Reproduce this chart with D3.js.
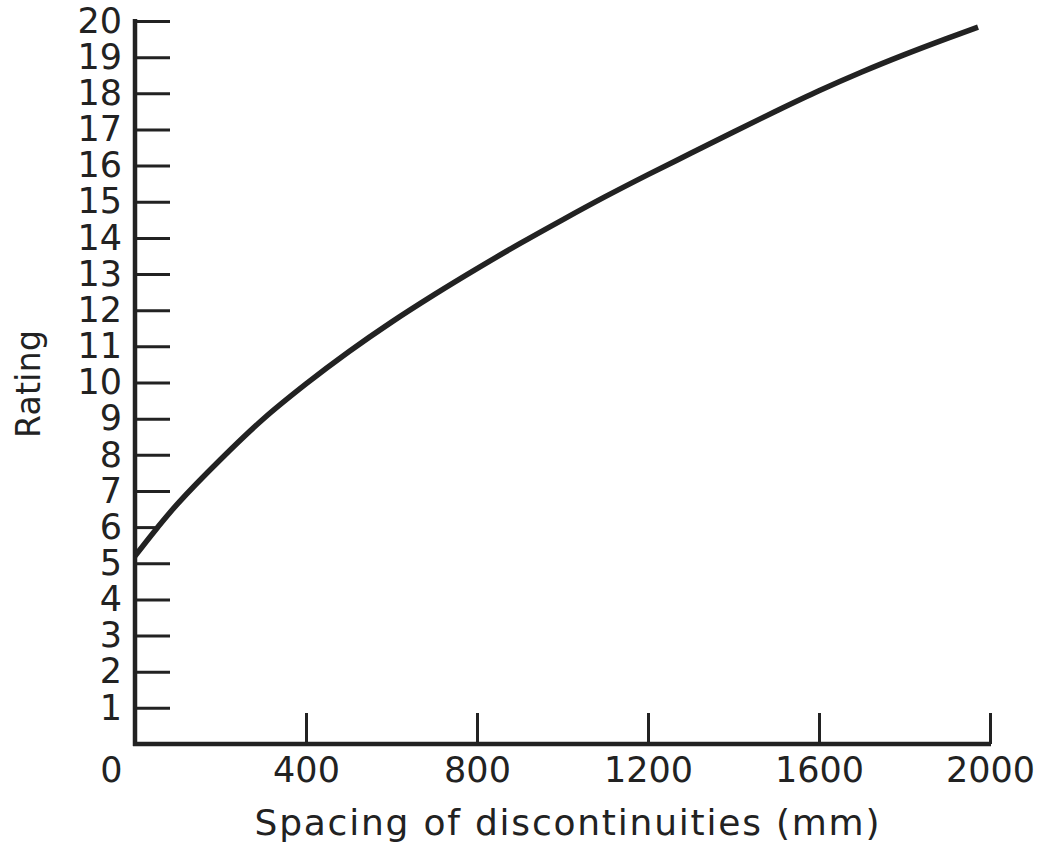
<!DOCTYPE html>
<html>
<head>
<meta charset="utf-8">
<script src="https://cdn.jsdelivr.net/npm/d3@7"></script>
<style>
  html, body { margin: 0; padding: 0; background: #fff; }
  svg { display: block; }
  text { font-family: "DejaVu Sans", sans-serif; fill: #222; }
</style>
</head>
<body>
<svg id="chart" width="1045" height="852"></svg>
<script>
// ---- data ----
const spacingMm = [0, 50, 100, 200, 300, 400, 500, 600, 700, 800, 900, 1000, 1100, 1200, 1300, 1400, 1500, 1600, 1700, 1800, 1900, 1972];
const rating    = [5.2, 5.95, 6.65, 7.87, 8.99, 9.96, 10.85, 11.67, 12.43, 13.15, 13.84, 14.5, 15.14, 15.75, 16.34, 16.93, 17.51, 18.07, 18.59, 19.07, 19.52, 19.83];
const xTicks = [0, 400, 800, 1200, 1600, 2000];
const yTicks = [1, 2, 3, 4, 5, 6, 7, 8, 9, 10, 11, 12, 13, 14, 15, 16, 17, 18, 19, 20];
const xTitle = "Spacing of discontinuities (mm)";
const yTitle = "Rating";

const svg = d3.select("#chart");
const ink = "#222";

const x = d3.scaleLinear().domain([0, 2000]).range([135, 990]);
const y = d3.scaleLinear().domain([0, 20]).range([744, 21]);

// y axis
const yAxis = svg.append("g")
  .attr("transform", `translate(${x(0)},0)`)
  .call(d3.axisLeft(y).tickValues(yTicks).tickSizeInner(-35).tickSizeOuter(0).tickPadding(13));
yAxis.select(".domain").remove();
yAxis.selectAll(".tick line").attr("stroke", ink).attr("stroke-width", 3);
yAxis.selectAll(".tick text").style("font-size", "35px").attr("fill", ink);

// shorten the 6 tick where the curve crosses it
const pts = spacingMm.map((s, i) => [s, rating[i]]);
let cross6 = null;
for (let i = 1; i < pts.length; i++) {
  if (pts[i - 1][1] <= 6 && pts[i][1] >= 6) {
    const t = (6 - pts[i - 1][1]) / (pts[i][1] - pts[i - 1][1]);
    cross6 = pts[i - 1][0] + t * (pts[i][0] - pts[i - 1][0]);
    break;
  }
}
yAxis.selectAll(".tick").filter(d => d === 6).select("line")
  .attr("x2", x(cross6) - x(0));

// x axis
const xAxis = svg.append("g")
  .attr("transform", `translate(0,${y(0)})`)
  .call(d3.axisBottom(x).tickValues(xTicks).tickSizeInner(-31).tickSizeOuter(0).tickPadding(13).tickFormat(d3.format("d")));
xAxis.select(".domain").remove();
xAxis.selectAll(".tick line").attr("stroke", ink).attr("stroke-width", 3)
  .filter(d => d === 0).remove();
xAxis.selectAll(".tick text").style("font-size", "35px").attr("fill", ink);
xAxis.selectAll(".tick").filter(d => d === 0).select("text").attr("x", -24);

// axis lines
svg.append("line")
  .attr("x1", x(0)).attr("x2", x(0))
  .attr("y1", y(20) - 2).attr("y2", y(0) + 2)
  .attr("stroke", ink).attr("stroke-width", 4.5);
svg.append("line")
  .attr("x1", x(0) - 2).attr("x2", x(2000) + 1)
  .attr("y1", y(0)).attr("y2", y(0))
  .attr("stroke", ink).attr("stroke-width", 4.5);

// curve
const line = d3.line()
  .x(d => x(d[0]))
  .y(d => y(d[1]))
  .curve(d3.curveCatmullRom.alpha(0.5));
svg.append("path")
  .datum(pts)
  .attr("d", line)
  .attr("fill", "none")
  .attr("stroke", ink)
  .attr("stroke-width", 5.5)
  .attr("stroke-linecap", "butt");

// titles
svg.append("text")
  .attr("x", 567).attr("y", 835)
  .attr("text-anchor", "middle")
  .attr("textLength", 625)
  .attr("lengthAdjust", "spacing")
  .style("font-size", "36px")
  .text(xTitle);

svg.append("text")
  .attr("transform", "translate(40,384) rotate(-90)")
  .attr("text-anchor", "middle")
  .attr("textLength", 108)
  .attr("lengthAdjust", "spacing")
  .style("font-size", "33px")
  .text(yTitle);
</script>
</body>
</html>
